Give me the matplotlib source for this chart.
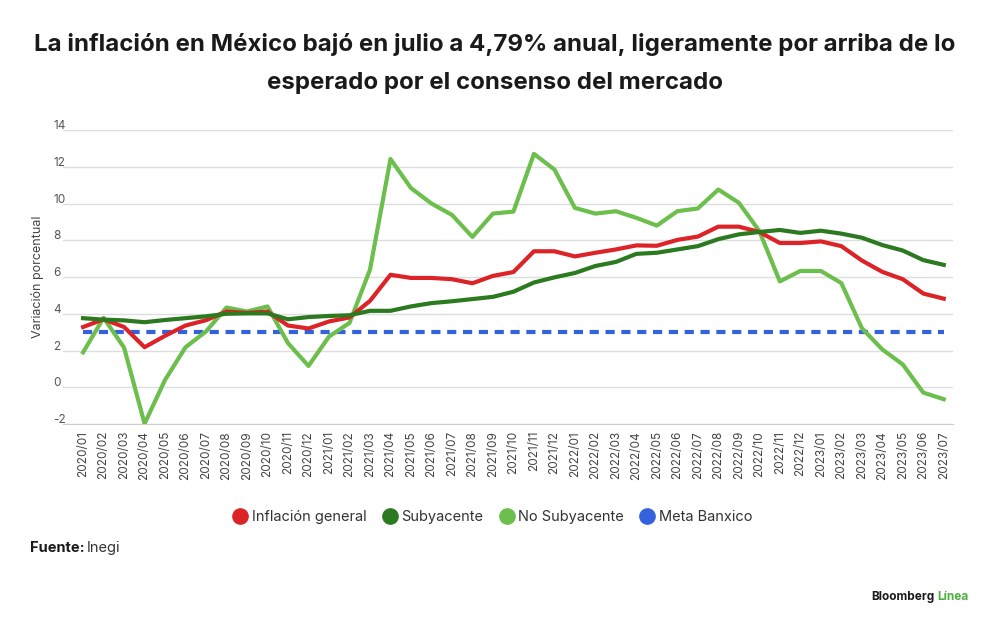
import matplotlib.pyplot as plt
import matplotlib.transforms as mtransforms
from matplotlib.lines import Line2D

plt.rcParams['font.family'] = ['Inter', 'DejaVu Sans']
plt.rcParams['axes.unicode_minus'] = False

# meses 2020/01 - 2023/07
meses = []
for anio in [2020, 2021, 2022, 2023]:
    for m in range(1, 13):
        if anio == 2023 and m > 7:
            break
        meses.append(f'{anio}/{m:02d}')

inflacion_general = [3.28, 3.70, 3.28, 2.18, 2.80, 3.36, 3.65, 4.12, 4.05, 4.12, 3.36, 3.20,
                     3.58, 3.80, 4.70, 6.12, 5.95, 5.95, 5.88, 5.66, 6.06, 6.27, 7.40, 7.40,
                     7.12, 7.32, 7.50, 7.72, 7.70, 8.02, 8.20, 8.74, 8.74, 8.45, 7.85, 7.85,
                     7.94, 7.68, 6.90, 6.28, 5.88, 5.10, 4.82]
subyacente = [3.76, 3.68, 3.64, 3.54, 3.66, 3.76, 3.86, 4.00, 4.02, 4.02, 3.70, 3.82,
              3.88, 3.92, 4.16, 4.16, 4.40, 4.58, 4.68, 4.80, 4.92, 5.20, 5.70, 5.98,
              6.22, 6.60, 6.82, 7.26, 7.32, 7.50, 7.68, 8.06, 8.32, 8.45, 8.56, 8.40,
              8.52, 8.36, 8.14, 7.74, 7.44, 6.92, 6.66]
no_subyacente = [1.90, 3.78, 2.16, -1.98, 0.40, 2.18, 3.04, 4.34, 4.12, 4.40, 2.40, 1.16,
                 2.76, 3.50, 6.40, 12.42, 10.84, 10.00, 9.38, 8.18, 9.45, 9.56, 12.70, 11.85,
                 9.76, 9.45, 9.58, 9.22, 8.80, 9.58, 9.73, 10.76, 10.04, 8.50, 5.76, 6.33,
                 6.33, 5.67, 3.22, 2.06, 1.24, -0.29, -0.65]
meta_banxico = [3.0] * len(meses)

rojo = '#dc2328'
verde_osc = '#2b7a1f'
verde_cl = '#6cbf4c'
azul = '#3462dc'

x = list(range(len(meses)))

fig = plt.figure(figsize=(10, 6.28), dpi=100)
ax = fig.add_axes([0.063, 0.3248, 0.890, 0.4682])

ax.plot(x, meta_banxico, color=azul, lw=3, ls=(0, (2.2, 1.6)), zorder=2)
ax.plot(x, no_subyacente, color=verde_cl, lw=3, zorder=3, solid_joinstyle='round')
ax.plot(x, subyacente, color=verde_osc, lw=3, zorder=4, solid_joinstyle='round')
ax.plot(x, inflacion_general, color=rojo, lw=3, zorder=3.5, solid_joinstyle='round')

ax.set_xlim(-0.98, 42.45)
ax.set_ylim(-2, 14)
ax.set_yticks(range(-2, 15, 2))
ax.grid(axis='y', color='#dddddd', lw=1)
ax.set_axisbelow(True)
for s in ['top', 'right', 'left']:
    ax.spines[s].set_visible(False)
ax.spines['bottom'].set_color('#cccccc')

ax.tick_params(axis='y', length=0, pad=0, labelsize=8.5, labelcolor='#555555')
offset = mtransforms.ScaledTranslation(-0.10, 0.055, fig.dpi_scale_trans)
for lab in ax.get_yticklabels():
    lab.set_horizontalalignment('left')
    lab.set_transform(lab.get_transform() + offset)

ax.set_xticks(x)
ax.set_xticklabels(meses, rotation=90, fontsize=8.5, color='#444444')
ax.tick_params(axis='x', length=0, pad=5)

fig.text(0.038, 0.56, 'Variación porcentual', rotation=90, ha='center', va='center',
         fontsize=9, color='#444444')

fig.text(0.495, 0.929, 'La inflación en México bajó en julio a 4,79% anual, ligeramente por arriba de lo',
         ha='center', va='center', fontsize=17.3, fontweight='bold', color='#1a1a1a')
fig.text(0.495, 0.868, 'esperado por el consenso del mercado',
         ha='center', va='center', fontsize=17.3, fontweight='bold', color='#1a1a1a')

handles = [Line2D([], [], color=c, marker='o', ls='none', markersize=11)
           for c in [rojo, verde_osc, verde_cl, azul]]
fig.legend(handles, ['Inflación general', 'Subyacente', 'No Subyacente', 'Meta Banxico'],
           loc='center', bbox_to_anchor=(0.492, 0.177), ncol=4, frameon=False,
           fontsize=10.5, handletextpad=0.2, columnspacing=1.0, handlelength=1.2,
           labelcolor='#333333')

fig.text(0.03, 0.127, 'Fuente:', fontsize=10.5, fontweight='bold', va='center', color='#1a1a1a')
fig.text(0.0865, 0.127, 'Inegi', fontsize=10.5, va='center', color='#333333')

fig.text(0.934, 0.049, 'Bloomberg', fontsize=8.5, fontweight='bold', ha='right', va='center',
         color='#1a1a1a')
fig.text(0.937, 0.049, 'Línea', fontsize=8.5, fontweight='bold', ha='left', va='center',
         color='#4caf3e')

fig.savefig('out.png', dpi=100)
